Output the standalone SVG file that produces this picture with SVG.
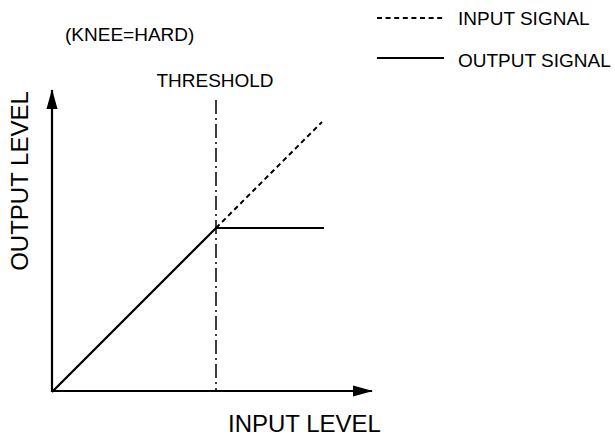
<svg xmlns="http://www.w3.org/2000/svg" width="615" height="436" viewBox="0 0 615 436">
<style>
text{font-family:"Liberation Sans",Arial,sans-serif;fill:#000}
.sm{font-size:19px}
.lg{font-size:24px}
.ln{stroke:#000;stroke-width:2.2;fill:none}
.dash{stroke:#000;stroke-width:2;fill:none;stroke-dasharray:5 3.6}
.dd{stroke:#000;stroke-width:1.5;fill:none;stroke-dasharray:14 4 2 4}
</style>
<defs>
<marker id="ah" markerWidth="20" markerHeight="12" refX="19" refY="6" orient="auto" markerUnits="userSpaceOnUse">
<path d="M0,0.5 L20,6 L0,11.5 Z" fill="#000"/>
</marker>
</defs>
<rect width="615" height="436" fill="#fff"/>
<g id="legend">
<line class="dash" x1="377" y1="18" x2="444" y2="18"/>
<text class="sm" x="458" y="25">INPUT SIGNAL</text>
<line class="ln" x1="377" y1="58" x2="444" y2="58"/>
<text class="sm" x="458" y="66.5">OUTPUT SIGNAL</text>
</g>
<g id="knee-label"><text class="sm" x="65" y="40.5">(KNEE=HARD)</text></g>
<g id="threshold"><text class="sm" x="215" y="87" text-anchor="middle">THRESHOLD</text>
<line class="dd" x1="216" y1="100" x2="216" y2="392"/></g>
<g id="axes">
<line class="ln" x1="52" y1="392" x2="52" y2="90" marker-end="url(#ah)"/>
<line class="ln" x1="52" y1="391" x2="372" y2="391" marker-end="url(#ah)"/>
<text class="lg" x="228" y="432">INPUT LEVEL</text>
<text class="lg" transform="translate(28,181) rotate(-90)" text-anchor="middle">OUTPUT LEVEL</text>
</g>
<g id="connectors">
<polyline class="ln" points="52,392 216,228 324,228"/>
<line class="dash" x1="216" y1="228" x2="322" y2="122"/>
</g>
</svg>
